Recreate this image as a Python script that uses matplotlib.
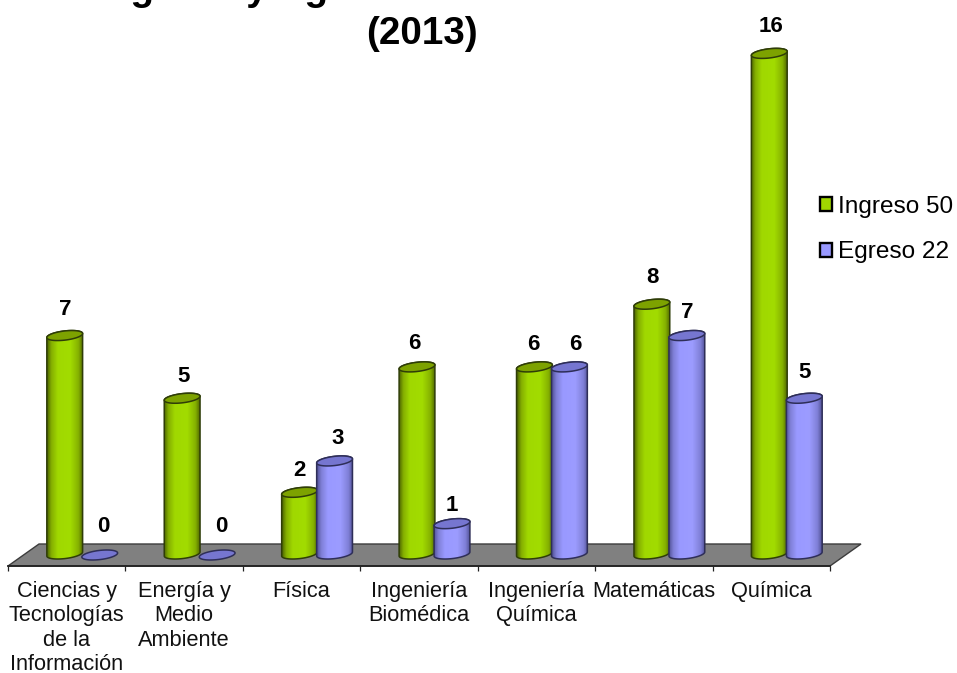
import numpy as np
import matplotlib
matplotlib.use("Agg")
import matplotlib.pyplot as plt
from matplotlib.colors import LinearSegmentedColormap
from matplotlib.patches import PathPatch, Patch, Polygon
from matplotlib.path import Path

categories = ["Ciencias y\nTecnologías\nde la\nInformación", "Energía y\nMedio\nAmbiente", "Física",
              "Ingeniería\nBiomédica", "Ingeniería\nQuímica", "Matemáticas", "Química"]
ingreso = [7, 5, 2, 6, 6, 8, 16]
egreso = [0, 0, 3, 1, 6, 7, 5]
series_names = ["Ingreso 50", "Egreso 22"]
title = "Ingreso y Egreso a Nivel Doctorado\n(2013)"

plt.rcParams["font.family"] = ["Liberation Sans", "DejaVu Sans"]
W, H = 957, 673
fig = plt.figure(figsize=(W / 100, H / 100), dpi=100, facecolor="white")

# axes frame: x 8..830 px, floor front at y=566 px, zero at 555 px, 31.35 px per unit
PX_X = (830 - 8) / 7
PX_Y = 31.35
ax = fig.add_axes([8 / W, (H - 566) / H, (830 - 8) / W, 566 / H])
ax.set_xlim(0, 7)
ax.set_ylim(-11 / PX_Y, 555 / PX_Y)
ax.patch.set_alpha(0)
for s in ["top", "left", "right"]:
    ax.spines[s].set_visible(False)
ax.spines["bottom"].set_linewidth(1.3)
ax.spines["bottom"].set_color("#222222")
ax.set_yticks([])
ax.set_xticks(range(8))
ax.set_xticklabels([])
ax.tick_params(axis="x", which="major", length=3.6, width=0.9, color="#222222")
ax.set_xticks(np.arange(7) + 0.5, minor=True)
ax.set_xticklabels(categories, minor=True, fontsize=15.7, linespacing=1.21, color="#111111")
ax.tick_params(axis="x", which="minor", length=0, pad=10.7)

# floor
dx, dy = 31 / PX_X, 11 / PX_Y
ax.add_patch(Polygon([(0, -dy), (7, -dy), (7 + dx, dy), (dx, dy)], closed=True, facecolor="#808080",
                     edgecolor="#3c3c3c", linewidth=1.0, clip_on=False, zorder=1))

RX, RY, TILT = 17.9, 4.6, 2.0
GREEN = LinearSegmentedColormap.from_list("g", [(0, "#4f6800"), (0.12, "#86b000"), (0.3, "#a0d800"), (0.65, "#a2dc00"),
                                                (0.88, "#86b200"), (1, "#566f00")])
PURPLE = LinearSegmentedColormap.from_list("p", [(0, "#55559a"), (0.12, "#8080d8"), (0.3, "#9999ff"), (0.65, "#9c9cff"),
                                                 (0.88, "#8080d8"), (1, "#55559a")])
GRAD = np.linspace(0, 1, 64)[None, :]


def ring(xc, yv, start, stop, n=60):
    """Tilted ellipse arc around a bar's centre, in data units."""
    t = np.linspace(start, stop, n)
    ex = np.cos(t)
    ey = RY * np.sin(t) + TILT * np.cos(t)
    return np.column_stack([xc + RX * ex / PX_X, yv + ey / PX_Y])


def cylinder(xc, val, cmap, top_color, edge, z):
    base = 1 / PX_Y
    if val == 0:
        pts = ring(xc, 0, 0, 2 * np.pi)
        ax.add_patch(Polygon(pts, closed=True, facecolor=top_color, edgecolor=edge, linewidth=1.1,
                             clip_on=False, zorder=z))
        return
    lower = ring(xc, base, np.pi, 2 * np.pi)
    upper = ring(xc, val, 0, np.pi)
    pts = np.vstack([lower, upper, lower[:1]])
    codes = [Path.MOVETO] + [Path.LINETO] * (len(pts) - 2) + [Path.CLOSEPOLY]
    body = PathPatch(Path(pts, codes), facecolor="none", edgecolor=edge, linewidth=1.1, clip_on=False, zorder=z + 0.2)
    ax.add_patch(body)
    half = RX / PX_X
    im = ax.imshow(GRAD, cmap=cmap, aspect="auto", extent=(xc - half, xc + half, -1, val + 1),
                   zorder=z, interpolation="bilinear")
    clip = PathPatch(Path(pts, codes), transform=ax.transData, facecolor="none", edgecolor="none")
    ax.add_patch(clip)
    im.set_clip_path(clip)
    ax.add_patch(Polygon(ring(xc, val, 0, 2 * np.pi), closed=True, facecolor=top_color, edgecolor=edge,
                         linewidth=1.1, clip_on=False, zorder=z + 0.3))


# value-label offsets from the bar top, in pixels
label_dx_g = [1, 1.5, 0, -2.5, -1, 1, 2]
label_dy_g = [26, 22, 22, 23, 22, 27, 27]
label_dx_e = [3.4, 4.4, 2.9, -0.1, 5.4, 0.4, 0.4]
label_dy_e = [28, 28, 22, 18, 22, 23, 26]
xg = [i + 0.5 - 2 / PX_X for i in range(7)]
xe = [i + 0.5 + 33 / PX_X for i in range(7)]
for i in range(7):
    cylinder(xg[i], ingreso[i], GREEN, "#7da200", "#2f3d08", 3 + i)
    cylinder(xe[i], egreso[i], PURPLE, "#7676d0", "#2e2e58", 3.5 + i)
    ax.annotate(str(ingreso[i]), (xg[i], ingreso[i]), xytext=(label_dx_g[i] * 0.72, label_dy_g[i] * 0.72),
                textcoords="offset points", ha="center", va="center", fontsize=16, fontweight="bold",
                color="black", annotation_clip=False, zorder=20)
    ax.annotate(str(egreso[i]), (xe[i], egreso[i]), xytext=(label_dx_e[i] * 0.72, label_dy_e[i] * 0.72),
                textcoords="offset points", ha="center", va="center", fontsize=16, fontweight="bold",
                color="black", annotation_clip=False, zorder=20)
ax.set_xlim(0, 7)
ax.set_ylim(-11 / PX_Y, 555 / PX_Y)

handles = [Patch(facecolor="#a0d800", edgecolor="black", linewidth=1.7),
           Patch(facecolor="#9999ff", edgecolor="black", linewidth=1.7)]
fig.legend(handles, series_names, loc="center left", bbox_to_anchor=(820 / W, 1 - 229.5 / H), frameon=False,
           fontsize=17.6, handlelength=0.5, handleheight=0.5, handletextpad=0.22, labelspacing=0.98,
           borderpad=0, borderaxespad=0)

fig.text(422 / W, 1 - 44 / H, title, ha="center", va="baseline", fontsize=27.8, fontweight="bold",
         color="black", linespacing=1.3)
fig.savefig("out.png", dpi=100, facecolor="white")
